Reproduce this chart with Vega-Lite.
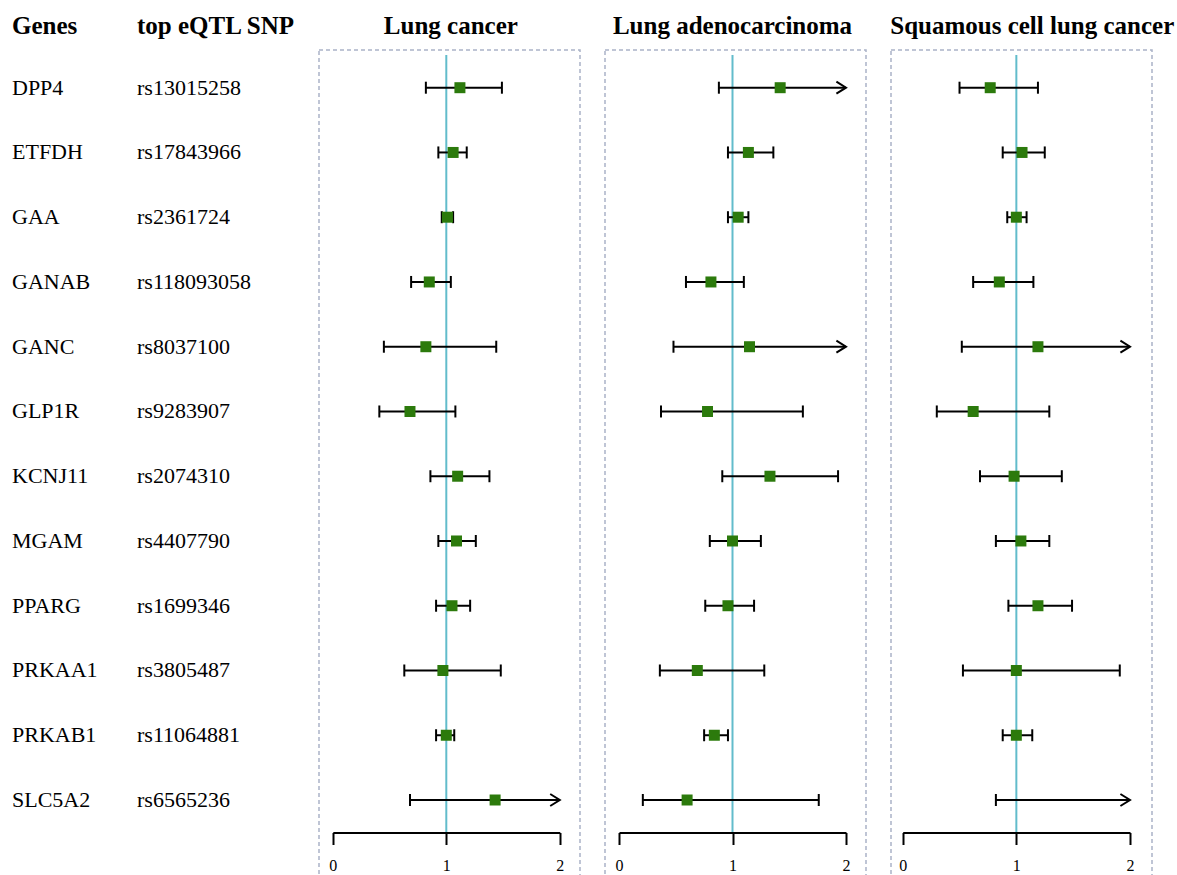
{
  "$schema": "https://vega.github.io/schema/vega-lite/v6.json",
  "padding": {"left": 0, "top": 13, "right": 0, "bottom": 0},
  "background": "white",
  "config": {"font": "Liberation Serif", "view": {"stroke": null}},
  "spacing": 25,
  "bounds": "flush",
  "datasets": {
    "rows": [
      {"row": 1, "gene": "DPP4", "snp": "rs13015258"},
      {"row": 2, "gene": "ETFDH", "snp": "rs17843966"},
      {"row": 3, "gene": "GAA", "snp": "rs2361724"},
      {"row": 4, "gene": "GANAB", "snp": "rs118093058"},
      {"row": 5, "gene": "GANC", "snp": "rs8037100"},
      {"row": 6, "gene": "GLP1R", "snp": "rs9283907"},
      {"row": 7, "gene": "KCNJ11", "snp": "rs2074310"},
      {"row": 8, "gene": "MGAM", "snp": "rs4407790"},
      {"row": 9, "gene": "PPARG", "snp": "rs1699346"},
      {"row": 10, "gene": "PRKAA1", "snp": "rs3805487"},
      {"row": 11, "gene": "PRKAB1", "snp": "rs11064881"},
      {"row": 12, "gene": "SLC5A2", "snp": "rs6565236"}
    ],
    "lc": [
      {"row": 1, "gene": "DPP4", "or": 1.12, "lo": 0.82, "hi": 1.49, "trunc": false},
      {"row": 2, "gene": "ETFDH", "or": 1.06, "lo": 0.93, "hi": 1.18, "trunc": false},
      {"row": 3, "gene": "GAA", "or": 1.01, "lo": 0.96, "hi": 1.06, "trunc": false},
      {"row": 4, "gene": "GANAB", "or": 0.85, "lo": 0.69, "hi": 1.04, "trunc": false},
      {"row": 5, "gene": "GANC", "or": 0.82, "lo": 0.45, "hi": 1.44, "trunc": false},
      {"row": 6, "gene": "GLP1R", "or": 0.68, "lo": 0.41, "hi": 1.08, "trunc": false},
      {"row": 7, "gene": "KCNJ11", "or": 1.10, "lo": 0.86, "hi": 1.38, "trunc": false},
      {"row": 8, "gene": "MGAM", "or": 1.09, "lo": 0.93, "hi": 1.26, "trunc": false},
      {"row": 9, "gene": "PPARG", "or": 1.05, "lo": 0.91, "hi": 1.21, "trunc": false},
      {"row": 10, "gene": "PRKAA1", "or": 0.97, "lo": 0.63, "hi": 1.48, "trunc": false},
      {"row": 11, "gene": "PRKAB1", "or": 1.00, "lo": 0.91, "hi": 1.07, "trunc": false},
      {"row": 12, "gene": "SLC5A2", "or": 1.43, "lo": 0.68, "hi": 2, "trunc": true}
    ],
    "luad": [
      {"row": 1, "gene": "DPP4", "or": 1.42, "lo": 0.88, "hi": 2, "trunc": true},
      {"row": 2, "gene": "ETFDH", "or": 1.14, "lo": 0.96, "hi": 1.36, "trunc": false},
      {"row": 3, "gene": "GAA", "or": 1.05, "lo": 0.96, "hi": 1.14, "trunc": false},
      {"row": 4, "gene": "GANAB", "or": 0.81, "lo": 0.59, "hi": 1.10, "trunc": false},
      {"row": 5, "gene": "GANC", "or": 1.15, "lo": 0.48, "hi": 2, "trunc": true},
      {"row": 6, "gene": "GLP1R", "or": 0.78, "lo": 0.37, "hi": 1.62, "trunc": false},
      {"row": 7, "gene": "KCNJ11", "or": 1.33, "lo": 0.91, "hi": 1.93, "trunc": false},
      {"row": 8, "gene": "MGAM", "or": 1.00, "lo": 0.80, "hi": 1.25, "trunc": false},
      {"row": 9, "gene": "PPARG", "or": 0.96, "lo": 0.76, "hi": 1.19, "trunc": false},
      {"row": 10, "gene": "PRKAA1", "or": 0.69, "lo": 0.36, "hi": 1.28, "trunc": false},
      {"row": 11, "gene": "PRKAB1", "or": 0.84, "lo": 0.75, "hi": 0.96, "trunc": false},
      {"row": 12, "gene": "SLC5A2", "or": 0.60, "lo": 0.21, "hi": 1.76, "trunc": false}
    ],
    "sq": [
      {"row": 1, "gene": "DPP4", "or": 0.77, "lo": 0.50, "hi": 1.19, "trunc": false},
      {"row": 2, "gene": "ETFDH", "or": 1.05, "lo": 0.88, "hi": 1.25, "trunc": false},
      {"row": 3, "gene": "GAA", "or": 1.00, "lo": 0.92, "hi": 1.09, "trunc": false},
      {"row": 4, "gene": "GANAB", "or": 0.85, "lo": 0.62, "hi": 1.15, "trunc": false},
      {"row": 5, "gene": "GANC", "or": 1.19, "lo": 0.52, "hi": 2, "trunc": true},
      {"row": 6, "gene": "GLP1R", "or": 0.62, "lo": 0.30, "hi": 1.29, "trunc": false},
      {"row": 7, "gene": "KCNJ11", "or": 0.98, "lo": 0.68, "hi": 1.40, "trunc": false},
      {"row": 8, "gene": "MGAM", "or": 1.04, "lo": 0.82, "hi": 1.29, "trunc": false},
      {"row": 9, "gene": "PPARG", "or": 1.19, "lo": 0.93, "hi": 1.49, "trunc": false},
      {"row": 10, "gene": "PRKAA1", "or": 1.00, "lo": 0.53, "hi": 1.91, "trunc": false},
      {"row": 11, "gene": "PRKAB1", "or": 1.00, "lo": 0.88, "hi": 1.14, "trunc": false},
      {"row": 12, "gene": "SLC5A2", "or": null, "lo": 0.82, "hi": 2, "trunc": true}
    ]
  },
  "hconcat": [
    {
      "width": 294, "height": 830,
      "layer": [
        {
          "data": {"name": "rows"},
          "mark": {"type": "text", "align": "left", "baseline": "middle", "fontSize": 22, "color": "black"},
          "encoding": {
            "x": {"datum": "gene", "type": "nominal", "scale": {"domain": ["gene", "snp"], "range": [12, 137], "padding": 0}, "axis": null},
            "y": {"field": "row", "type": "quantitative", "scale": {"domain": [1, 12], "range": [37.7, 750], "nice": false, "zero": false}, "axis": null},
            "text": {"field": "gene"}
          }
        },
        {
          "data": {"name": "rows"},
          "mark": {"type": "text", "align": "left", "baseline": "middle", "fontSize": 22, "color": "black"},
          "encoding": {
            "x": {"datum": "snp", "type": "nominal"},
            "y": {"field": "row", "type": "quantitative"},
            "text": {"field": "snp"}
          }
        },
        {
          "data": {"values": [{"col": "gene", "label": "Genes", "pos": 0.047}, {"col": "snp", "label": "top eQTL SNP", "pos": 0.047}]},
          "mark": {"type": "text", "align": "left", "baseline": "middle", "fontSize": 25, "fontWeight": "bold", "color": "black"},
          "encoding": {
            "x": {"field": "col", "type": "nominal"},
            "y": {"field": "pos", "type": "quantitative"},
            "text": {"field": "label"}
          }
        }
      ]
    },
    {
      "width": 261, "height": 830,
      "view": {"stroke": "#aab3c7", "strokeDash": [4, 3], "strokeWidth": 1.5},
      "layer": [
        {
          "data": {"values": [{"ref": 1, "top": 0.495, "bottom": 12.503}]},
          "mark": {"type": "rule", "color": "#62bccb", "strokeWidth": 2},
          "encoding": {
            "x": {"field": "ref", "type": "quantitative", "scale": {"domain": [0, 2], "range": [13.8, 240.8], "nice": false, "zero": false},
              "axis": {"title": null, "tickCount": 2, "grid": false, "offset": -47.5, "domainColor": "black", "domainWidth": 2, "tickColor": "black", "tickWidth": 2, "tickSize": 12, "labelFont": "Liberation Serif", "labelFontSize": 16, "labelColor": "black", "labelPadding": 13, "labelFlush": false, "labelOverlap": false, "zindex": 1}},
            "y": {"field": "top", "type": "quantitative", "scale": {"domain": [1, 12], "range": [37.7, 750], "nice": false, "zero": false}, "axis": null},
            "y2": {"field": "bottom"}
          }
        },
        {
          "data": {"name": "lc"},
          "mark": {"type": "rule", "color": "black", "strokeWidth": 2},
          "encoding": {"x": {"field": "lo", "type": "quantitative"}, "x2": {"field": "hi"}, "y": {"field": "row", "type": "quantitative"}}
        },
        {
          "data": {"name": "lc"},
          "mark": {"type": "tick", "orient": "vertical", "color": "black", "thickness": 2, "size": 12, "opacity": 1},
          "encoding": {"x": {"field": "lo", "type": "quantitative"}, "y": {"field": "row", "type": "quantitative"}}
        },
        {
          "data": {"name": "lc"},
          "transform": [{"filter": "!datum.trunc"}],
          "mark": {"type": "tick", "orient": "vertical", "color": "black", "thickness": 2, "size": 12, "opacity": 1},
          "encoding": {"x": {"field": "hi", "type": "quantitative"}, "y": {"field": "row", "type": "quantitative"}}
        },
        {
          "data": {"name": "lc"},
          "transform": [{"filter": "datum.trunc"}],
          "mark": {"type": "point", "shape": "M-1.6,-1L0,0L-1.6,1", "filled": false, "stroke": "black", "strokeWidth": 2, "size": 144, "opacity": 1},
          "encoding": {"x": {"field": "hi", "type": "quantitative"}, "y": {"field": "row", "type": "quantitative"}}
        },
        {
          "data": {"name": "lc"},
          "mark": {"type": "point", "shape": "square", "filled": true, "color": "#2c7a0c", "size": 121, "opacity": 1},
          "encoding": {"x": {"field": "or", "type": "quantitative"}, "y": {"field": "row", "type": "quantitative"}}
        },
        {
          "data": {"values": [{"t": "Lung cancer", "xp": 1.04, "yp": 0.047}]},
          "mark": {"type": "text", "fontSize": 25, "fontWeight": "bold", "baseline": "middle", "align": "center", "color": "black"},
          "encoding": {"x": {"field": "xp", "type": "quantitative"}, "y": {"field": "yp", "type": "quantitative"}, "text": {"field": "t"}}
        }
      ]
    },
    {
      "width": 261, "height": 830,
      "view": {"stroke": "#aab3c7", "strokeDash": [4, 3], "strokeWidth": 1.5},
      "layer": [
        {
          "data": {"values": [{"ref": 1, "top": 0.495, "bottom": 12.503}]},
          "mark": {"type": "rule", "color": "#62bccb", "strokeWidth": 2},
          "encoding": {
            "x": {"field": "ref", "type": "quantitative", "scale": {"domain": [0, 2], "range": [14, 241], "nice": false, "zero": false},
              "axis": {"title": null, "tickCount": 2, "grid": false, "offset": -47.5, "domainColor": "black", "domainWidth": 2, "tickColor": "black", "tickWidth": 2, "tickSize": 12, "labelFont": "Liberation Serif", "labelFontSize": 16, "labelColor": "black", "labelPadding": 13, "labelFlush": false, "labelOverlap": false, "zindex": 1}},
            "y": {"field": "top", "type": "quantitative", "scale": {"domain": [1, 12], "range": [37.7, 750], "nice": false, "zero": false}, "axis": null},
            "y2": {"field": "bottom"}
          }
        },
        {
          "data": {"name": "luad"},
          "mark": {"type": "rule", "color": "black", "strokeWidth": 2},
          "encoding": {"x": {"field": "lo", "type": "quantitative"}, "x2": {"field": "hi"}, "y": {"field": "row", "type": "quantitative"}}
        },
        {
          "data": {"name": "luad"},
          "mark": {"type": "tick", "orient": "vertical", "color": "black", "thickness": 2, "size": 12, "opacity": 1},
          "encoding": {"x": {"field": "lo", "type": "quantitative"}, "y": {"field": "row", "type": "quantitative"}}
        },
        {
          "data": {"name": "luad"},
          "transform": [{"filter": "!datum.trunc"}],
          "mark": {"type": "tick", "orient": "vertical", "color": "black", "thickness": 2, "size": 12, "opacity": 1},
          "encoding": {"x": {"field": "hi", "type": "quantitative"}, "y": {"field": "row", "type": "quantitative"}}
        },
        {
          "data": {"name": "luad"},
          "transform": [{"filter": "datum.trunc"}],
          "mark": {"type": "point", "shape": "M-1.6,-1L0,0L-1.6,1", "filled": false, "stroke": "black", "strokeWidth": 2, "size": 144, "opacity": 1},
          "encoding": {"x": {"field": "hi", "type": "quantitative"}, "y": {"field": "row", "type": "quantitative"}}
        },
        {
          "data": {"name": "luad"},
          "mark": {"type": "point", "shape": "square", "filled": true, "color": "#2c7a0c", "size": 121, "opacity": 1},
          "encoding": {"x": {"field": "or", "type": "quantitative"}, "y": {"field": "row", "type": "quantitative"}}
        },
        {
          "data": {"values": [{"t": "Lung adenocarcinoma", "xp": 1.0, "yp": 0.047}]},
          "mark": {"type": "text", "fontSize": 25, "fontWeight": "bold", "baseline": "middle", "align": "center", "color": "black"},
          "encoding": {"x": {"field": "xp", "type": "quantitative"}, "y": {"field": "yp", "type": "quantitative"}, "text": {"field": "t"}}
        }
      ]
    },
    {
      "width": 261, "height": 830,
      "view": {"stroke": "#aab3c7", "strokeDash": [4, 3], "strokeWidth": 1.5},
      "layer": [
        {
          "data": {"values": [{"ref": 1, "top": 0.495, "bottom": 12.503}]},
          "mark": {"type": "rule", "color": "#62bccb", "strokeWidth": 2},
          "encoding": {
            "x": {"field": "ref", "type": "quantitative", "scale": {"domain": [0, 2], "range": [11.7, 239], "nice": false, "zero": false},
              "axis": {"title": null, "tickCount": 2, "grid": false, "offset": -47.5, "domainColor": "black", "domainWidth": 2, "tickColor": "black", "tickWidth": 2, "tickSize": 12, "labelFont": "Liberation Serif", "labelFontSize": 16, "labelColor": "black", "labelPadding": 13, "labelFlush": false, "labelOverlap": false, "zindex": 1}},
            "y": {"field": "top", "type": "quantitative", "scale": {"domain": [1, 12], "range": [37.7, 750], "nice": false, "zero": false}, "axis": null},
            "y2": {"field": "bottom"}
          }
        },
        {
          "data": {"name": "sq"},
          "mark": {"type": "rule", "color": "black", "strokeWidth": 2},
          "encoding": {"x": {"field": "lo", "type": "quantitative"}, "x2": {"field": "hi"}, "y": {"field": "row", "type": "quantitative"}}
        },
        {
          "data": {"name": "sq"},
          "mark": {"type": "tick", "orient": "vertical", "color": "black", "thickness": 2, "size": 12, "opacity": 1},
          "encoding": {"x": {"field": "lo", "type": "quantitative"}, "y": {"field": "row", "type": "quantitative"}}
        },
        {
          "data": {"name": "sq"},
          "transform": [{"filter": "!datum.trunc"}],
          "mark": {"type": "tick", "orient": "vertical", "color": "black", "thickness": 2, "size": 12, "opacity": 1},
          "encoding": {"x": {"field": "hi", "type": "quantitative"}, "y": {"field": "row", "type": "quantitative"}}
        },
        {
          "data": {"name": "sq"},
          "transform": [{"filter": "datum.trunc"}],
          "mark": {"type": "point", "shape": "M-1.6,-1L0,0L-1.6,1", "filled": false, "stroke": "black", "strokeWidth": 2, "size": 144, "opacity": 1},
          "encoding": {"x": {"field": "hi", "type": "quantitative"}, "y": {"field": "row", "type": "quantitative"}}
        },
        {
          "data": {"name": "sq"},
          "mark": {"type": "point", "shape": "square", "filled": true, "color": "#2c7a0c", "size": 121, "opacity": 1},
          "encoding": {"x": {"field": "or", "type": "quantitative"}, "y": {"field": "row", "type": "quantitative"}}
        },
        {
          "data": {"values": [{"t": "Squamous cell lung cancer", "xp": 1.14, "yp": 0.047}]},
          "mark": {"type": "text", "fontSize": 25, "fontWeight": "bold", "baseline": "middle", "align": "center", "color": "black"},
          "encoding": {"x": {"field": "xp", "type": "quantitative"}, "y": {"field": "yp", "type": "quantitative"}, "text": {"field": "t"}}
        }
      ]
    }
  ]
}
